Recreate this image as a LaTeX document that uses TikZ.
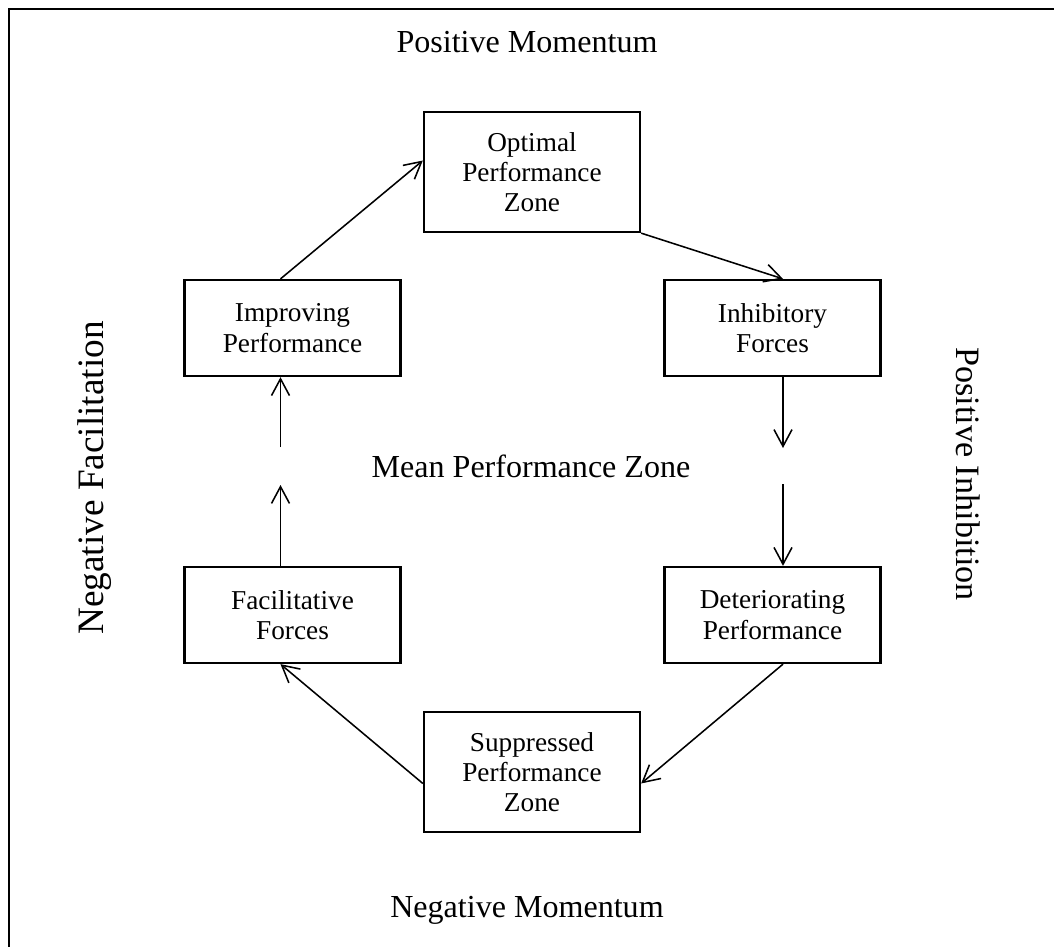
\documentclass[tikz,border=0pt]{standalone}
\usepackage{fontspec}
\setmainfont{Liberation Serif}
\usetikzlibrary{arrows.meta}
\tikzset{
  box/.style={draw, line width=1.6pt, align=center, inner sep=0pt,
    font=\fontsize{19.4}{21.5}\selectfont},
  wide/.style={box, minimum width=5.4cm, minimum height=2.4cm},
  zone/.style={box, minimum width=5.4cm, minimum height=3.0cm},
  label/.style={font=\fontsize{22.8}{26}\selectfont},
  flow/.style={-{Straight Barb[length=0.42cm,width=0.45cm]}, line width=1.1pt}
}
\begin{document}
\begin{tikzpicture}[x=0.025cm, y=-0.025cm]
      \useasboundingbox (0,0) rectangle (1054,947);
      \draw[line width=2pt] (9,947) -- (9,9) -- (1054,9);
      \draw
        (532,172) node[zone] (opt){Optimal\\Performance\\Zone}
        (292.5,328) node[wide] (imp){Improving\\Performance}
        (772.5,328) node[wide] (inh){Inhibitory\\Forces}
        (292.5,615) node[wide] (fac){Facilitative\\Forces}
        (772.5,615) node[wide] (det){Deteriorating\\Performance}
        (532,772) node[zone] (sup){Suppressed\\Performance\\Zone}
        (527,42) node[label] (top){Positive Momentum}
        (527,910) node[label] (bot){Negative Momentum}
        (531,466) node[label] (mid){Mean Performance Zone}
        (95,478) node[label, font=\fontsize{26.5}{30}\selectfont, rotate=90] (left){Negative Facilitation}
        (968,474) node[label, font=\fontsize{24.3}{28}\selectfont, rotate=-90] (right){Positive Inhibition};
      \coordinate (inhgap) at (783,448);
      \coordinate (detgap) at (783,484);
      \coordinate (impgap) at (280.5,447);
      \coordinate (facgap) at (280.5,485);
      \begin{scope}[flow]
        \draw (imp.north -| impgap) to (opt.174);
        \draw (opt.south east) to (inh.north -| inhgap);
        \draw (inh.south -| inhgap) to (inhgap);
        \draw (detgap) to (det.north -| detgap);
        \draw (det.south -| detgap) to (sup.-6);
        \draw (sup.-174) to (fac.south -| facgap);
        \draw (fac.north -| facgap) to (facgap);
        \draw (impgap) to (imp.south -| impgap);
      \end{scope}
    \end{tikzpicture}
\end{document}
